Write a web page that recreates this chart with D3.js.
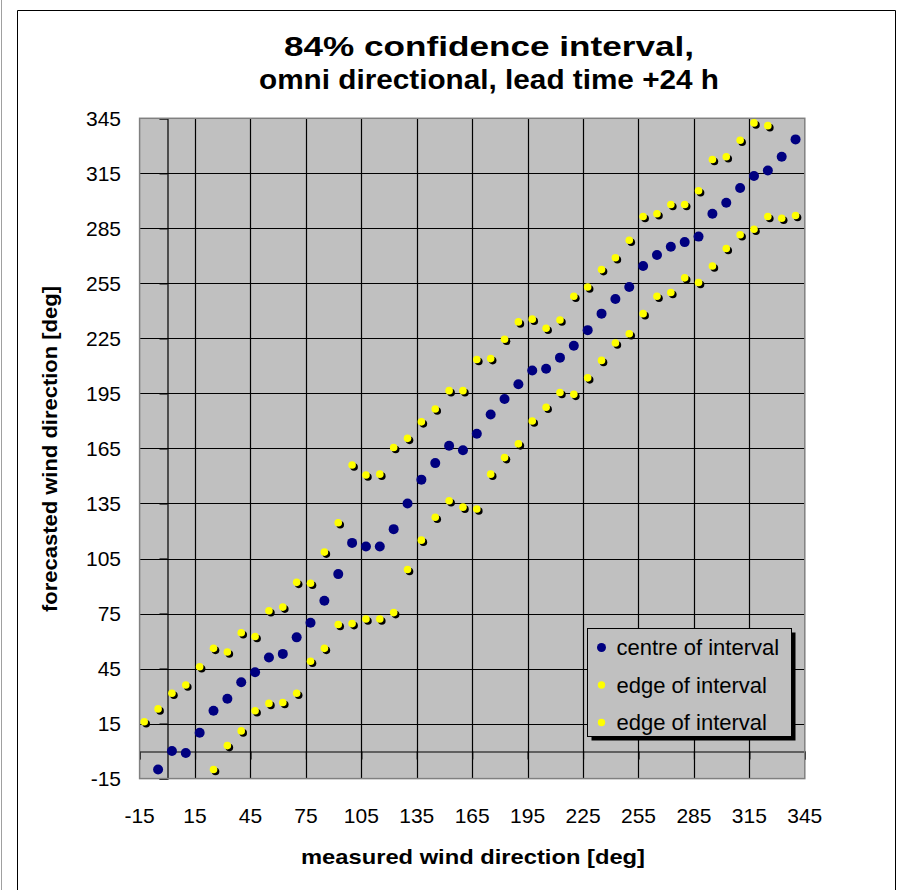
<!DOCTYPE html>
<html>
<head>
<meta charset="utf-8">
<script src="https://cdn.jsdelivr.net/npm/d3@7/dist/d3.min.js"></script>
<style>
  html, body { margin: 0; padding: 0; background: #fff; }
  svg { display: block; font-family: "Liberation Sans", Arial, sans-serif; }
</style>
</head>
<body>
<svg id="chart" width="909" height="890"></svg>
<script>
// ---- data ----
const titleLines = ["84% confidence interval,", "omni directional, lead time +24 h"];
const xLabel = "measured wind direction [deg]";
const yLabel = "forecasted wind direction [deg]";
const tickValues = [-15, 15, 45, 75, 105, 135, 165, 195, 225, 255, 285, 315, 345];
const seriesNames = ["centre of interval", "edge of interval", "edge of interval"];

const centreX = [-5, 2.5, 10, 17.5, 25, 32.5, 40, 47.5, 55, 62.5, 70, 77.5, 85, 92.5, 100,
  107.5, 115, 122.5, 130, 137.5, 145, 152.5, 160, 167.5, 175, 182.5, 190, 197.5, 205, 212.5,
  220, 227.5, 235, 242.5, 250, 257.5, 265, 272.5, 280, 287.5, 295, 302.5, 310, 317.5, 325,
  332.5, 340];
const centreY = [-10, 0, -1, 10, 22, 28.5, 37.5, 43, 51, 53, 62, 70, 82, 96.5, 113.5,
  111.5, 111.5, 121, 135, 148, 157, 166.5, 164, 173, 183.5, 192, 200, 207.5, 208.5, 214.5,
  221, 229.5, 238.5, 246.5, 253, 264.5, 270.5, 275, 277.5, 280.5, 293, 299, 307, 313.5, 316.5,
  324, 333.5];

const upperX = [-12.5, -5, 2.5, 10, 17.5, 25, 32.5, 40, 47.5, 55, 62.5, 70, 77.5, 85, 92.5,
  100, 107.5, 115, 122.5, 130, 137.5, 145, 152.5, 160, 167.5, 175, 182.5, 190, 197.5, 205,
  212.5, 220, 227.5, 235, 242.5, 250, 257.5, 265, 272.5, 280, 287.5, 295, 302.5, 310, 317.5, 325];
const upperY = [16, 23, 31.5, 36, 46, 56, 54, 64.5, 62.5, 76.5, 78.5, 92, 91.5, 108.5, 124.5,
  156, 150.5, 151, 165.5, 170.5, 179.5, 186.5, 196.5, 196.5, 213.5, 214, 224.5, 234, 235.5, 230.5,
  235, 248, 253, 262.5, 269, 278.5, 291.5, 293, 298, 298, 305.5, 322.5, 324, 333, 342.5, 341];

const lowerX = [25, 32.5, 40, 47.5, 55, 62.5, 70, 77.5, 85, 92.5, 100, 107.5, 115, 122.5,
  130, 137.5, 145, 152.5, 160, 167.5, 175, 182.5, 190, 197.5, 205, 212.5, 220, 227.5, 235,
  242.5, 250, 257.5, 265, 272.5, 280, 287.5, 295, 302.5, 310, 317.5, 325, 332.5, 340];
const lowerY = [-10, 3, 11, 22, 26, 26.5, 31.5, 49, 56, 69, 69.5, 72, 72, 75.5,
  99, 115, 127.5, 136.5, 133, 132, 151, 160, 167.5, 180, 187.5, 195.5, 194.5, 203.5, 213,
  222.5, 227.5, 238.5, 248, 250, 258, 255.5, 264.5, 274, 281.5, 284.5, 291.5, 290.5, 292];

// ---- layout ----
const svg = d3.select("#chart");
const plot = { left: 139.6, right: 804.8, top: 118.3, bottom: 778.6 };
const x = d3.scaleLinear().domain([-15, 345]).range([plot.left, plot.right]);
const y = d3.scaleLinear().domain([-15, 345]).range([plot.bottom, plot.top]);

// outer chart frame
svg.append("line").attr("x1", 1.5).attr("x2", 1.5).attr("y1", 0).attr("y2", 890)
  .attr("stroke", "#a0a0a0").attr("stroke-width", 1);
svg.append("path").attr("d", "M17.5,890 V10.5 H895.5 V890")
  .attr("fill", "none").attr("stroke", "#000").attr("stroke-width", 1);

// plot area
svg.append("rect").attr("x", plot.left).attr("y", plot.top)
  .attr("width", plot.right - plot.left).attr("height", plot.bottom - plot.top)
  .attr("fill", "#c0c0c0");

// grid
const grid = svg.append("g");
grid.selectAll(".vg").data(tickValues.slice(1, -1)).join("line")
  .attr("x1", d => Math.round(x(d)) + 0.5).attr("x2", d => Math.round(x(d)) + 0.5)
  .attr("y1", plot.top).attr("y2", plot.bottom)
  .attr("stroke", "#000").attr("stroke-width", 1.2);
grid.selectAll(".hg").data(tickValues.slice(1, -1)).join("line")
  .attr("y1", d => Math.round(y(d)) + 0.5).attr("y2", d => Math.round(y(d)) + 0.5)
  .attr("x1", plot.left).attr("x2", plot.right)
  .attr("stroke", "#000").attr("stroke-width", 1.2);

// axes crossing at zero
const yAxisG = svg.append("g").attr("transform", `translate(${Math.round(x(0)) + 0.5},0)`)
  .call(d3.axisLeft(y).tickValues(tickValues).tickSize(8).tickFormat(""));
const xAxisG = svg.append("g").attr("transform", `translate(0,${Math.round(y(0)) + 0.5})`)
  .call(d3.axisBottom(x).tickValues(tickValues).tickSize(8).tickFormat(""));
[yAxisG, xAxisG].forEach(g => {
  g.select(".domain").attr("stroke", "#000").attr("stroke-width", 1.2);
  g.selectAll(".tick line").attr("stroke", "#000").attr("stroke-width", 1.2);
});

// plot border
svg.append("rect").attr("x", plot.left).attr("y", plot.top)
  .attr("width", plot.right - plot.left).attr("height", plot.bottom - plot.top)
  .attr("fill", "none").attr("stroke", "#808080").attr("stroke-width", 1.5);

// tick labels
svg.append("g").selectAll("text").data(tickValues).join("text")
  .attr("x", 121).attr("y", d => y(d) + 7.5)
  .attr("text-anchor", "end").attr("font-size", 21).attr("fill", "#000")
  .text(d => d);
svg.append("g").selectAll("text").data(tickValues).join("text")
  .attr("x", d => x(d)).attr("y", 823)
  .attr("text-anchor", "middle").attr("font-size", 21).attr("fill", "#000")
  .text(d => d);

// titles
const titleLen = [410, 460];
svg.append("g").selectAll("text").data(titleLines).join("text")
  .attr("x", 489).attr("y", (d, i) => 56 + i * 33)
  .attr("text-anchor", "middle").attr("font-size", 27).attr("font-weight", "bold")
  .attr("textLength", (d, i) => titleLen[i]).attr("lengthAdjust", "spacingAndGlyphs")
  .text(d => d);
svg.append("text").attr("x", 473).attr("y", 864)
  .attr("text-anchor", "middle").attr("font-size", 21).attr("font-weight", "bold")
  .attr("textLength", 344).attr("lengthAdjust", "spacingAndGlyphs")
  .text(xLabel);
svg.append("text").attr("transform", "translate(57,449) rotate(-90)")
  .attr("text-anchor", "middle").attr("font-size", 21).attr("font-weight", "bold")
  .attr("textLength", 326).attr("lengthAdjust", "spacingAndGlyphs")
  .text(yLabel);

// markers
const pts = (xs, ys) => xs.map((v, i) => ({ x: v, y: ys[i] }));
const edges = pts(upperX, upperY).concat(pts(lowerX, lowerY));
const marks = svg.append("g");
marks.selectAll(".c").data(pts(centreX, centreY)).join("circle")
  .attr("cx", d => x(d.x)).attr("cy", d => y(d.y)).attr("r", 5)
  .attr("fill", "#000080");
marks.selectAll(".es").data(edges).join("circle")
  .attr("cx", d => x(d.x) + 2).attr("cy", d => y(d.y) + 2).attr("r", 3.8)
  .attr("fill", "#000");
marks.selectAll(".e").data(edges).join("circle")
  .attr("cx", d => x(d.x)).attr("cy", d => y(d.y)).attr("r", 3.8)
  .attr("fill", "#ffff00");

// legend
const lg = { x: 587.5, y: 628.5, w: 204, h: 108 };
svg.append("rect").attr("x", lg.x + 4).attr("y", lg.y + 4).attr("width", lg.w).attr("height", lg.h)
  .attr("fill", "#000");
svg.append("rect").attr("x", lg.x).attr("y", lg.y).attr("width", lg.w).attr("height", lg.h)
  .attr("fill", "#c0c0c0").attr("stroke", "#000").attr("stroke-width", 1);
const legendColors = ["#000080", "#ffff00", "#ffff00"];
const lgItems = svg.append("g").selectAll("g").data(seriesNames).join("g")
  .attr("transform", (d, i) => `translate(${lg.x + 14},${lg.y + 19 + i * 37.5})`);
lgItems.append("circle").attr("r", (d, i) => i === 0 ? 4.5 : 3.7)
  .attr("fill", (d, i) => legendColors[i]);
lgItems.append("text").attr("x", 15).attr("y", 7.5).attr("font-size", 22).text(d => d);
</script>
</body>
</html>
